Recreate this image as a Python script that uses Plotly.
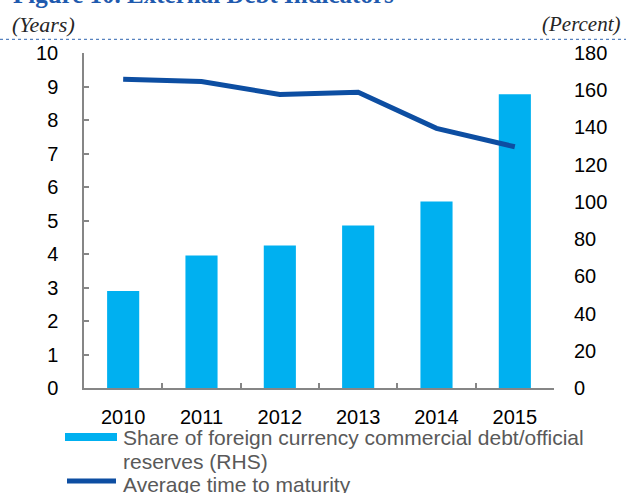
import plotly.graph_objects as go

years = ["2010", "2011", "2012", "2013", "2014", "2015"]
share_fx_debt_reserves = [52.1, 71.2, 76.6, 87.3, 100.2, 157.8]   # percent, RHS
avg_time_to_maturity = [9.22, 9.15, 8.76, 8.83, 7.75, 7.20]       # years, LHS

title_text = "Figure 10. External Debt Indicators"
left_unit = "(Years)"
right_unit = "(Percent)"
legend_bar_lines = ["Share of foreign currency commercial debt/official", "reserves (RHS)"]
legend_line_label = "Average time to maturity"

BAR_COLOR = "#00B0F0"
LINE_COLOR = "#0D4EA2"
AXIS_COLOR = "#868686"
TXT = "#000000"
LEG_TXT = "#595959"

W, H = 626, 493
L, R, T, B = 84, 554, 52.7, 388


def px(x):
    return (x - L) / (R - L)


def py(y):
    return (B - y) / (B - T)


fig = go.Figure()
fig.add_trace(go.Bar(x=years, y=share_fx_debt_reserves, yaxis="y", marker=dict(color=BAR_COLOR, line=dict(width=0)),
                     width=0.41, name=" ".join(legend_bar_lines), showlegend=False))
fig.add_trace(go.Scatter(x=years, y=avg_time_to_maturity, yaxis="y2", mode="lines",
                         line=dict(color=LINE_COLOR, width=5), name=legend_line_label, showlegend=False))

font = dict(family="Liberation Sans, Arial", size=20, color=TXT)

fig.update_layout(
    width=W, height=H,
    margin=dict(l=L, r=W - R, t=T, b=H - B, pad=0, autoexpand=False),
    plot_bgcolor="white", paper_bgcolor="white",
    font=font,
    xaxis=dict(type="category", showline=True, linecolor=AXIS_COLOR, linewidth=1.5,
               ticks="inside", ticklen=5, tickcolor=AXIS_COLOR, tickwidth=1.5, tickson="boundaries",
               showgrid=False, zeroline=False, tickfont=font, ticklabelstandoff=10, range=[-0.5, 5.5],
               automargin=False),
    yaxis=dict(side="right", range=[0, 180], dtick=20, showline=False, ticks="", showgrid=False,
               zeroline=False, tickfont=font, ticklabelstandoff=19, automargin=False),
    yaxis2=dict(side="left", overlaying="y", anchor="x", range=[0, 10], dtick=1, showline=True,
                linecolor=AXIS_COLOR, linewidth=1.5, ticks="inside", ticklen=5, tickcolor=AXIS_COLOR,
                tickwidth=1.5, showgrid=False, zeroline=False, tickfont=font, ticklabelstandoff=20,
                automargin=False),
    showlegend=False,
)

# dotted separator under header
fig.add_shape(type="line", xref="paper", yref="paper", x0=px(0), x1=px(W), y0=py(39), y1=py(39),
              line=dict(color="#2E63B0", width=1, dash="dot"))

# header texts
fig.add_annotation(text="<b>" + title_text + "</b>", xref="paper", yref="paper", x=px(11), y=py(-6),
                   xanchor="left", yanchor="middle", showarrow=False,
                   font=dict(family="Liberation Serif, Times New Roman", size=25, color="#1F5AAE"))
fig.add_annotation(text="<i>" + left_unit + "</i>", xref="paper", yref="paper", x=px(10), y=py(24),
                   xanchor="left", yanchor="middle", showarrow=False,
                   font=dict(family="Liberation Serif, Times New Roman", size=22, color="#262626"))
fig.add_annotation(text="<i>" + right_unit + "</i>", xref="paper", yref="paper", x=px(623), y=py(24),
                   xanchor="right", yanchor="middle", showarrow=False,
                   font=dict(family="Liberation Serif, Times New Roman", size=21, color="#262626"))

# legend (drawn manually to match wide swatches)
fig.add_shape(type="rect", xref="paper", yref="paper", x0=px(65), x1=px(117), y0=py(441), y1=py(433),
              fillcolor=BAR_COLOR, line=dict(width=0))
fig.add_shape(type="line", xref="paper", yref="paper", x0=px(67), x1=px(116), y0=py(481), y1=py(481),
              line=dict(color=LINE_COLOR, width=5))
leg_font = dict(family="Liberation Sans, Arial", size=21, color=LEG_TXT)
for txt, yy in [(legend_bar_lines[0], 438), (legend_bar_lines[1], 462), (legend_line_label, 485)]:
    fig.add_annotation(text=txt, xref="paper", yref="paper", x=px(121), y=py(yy), xanchor="left",
                       yanchor="middle", showarrow=False, font=leg_font)

fig.write_html("out.html", config={"displayModeBar": False},
               post_script="document.body.style.margin='0';document.body.style.overflow='hidden';")
